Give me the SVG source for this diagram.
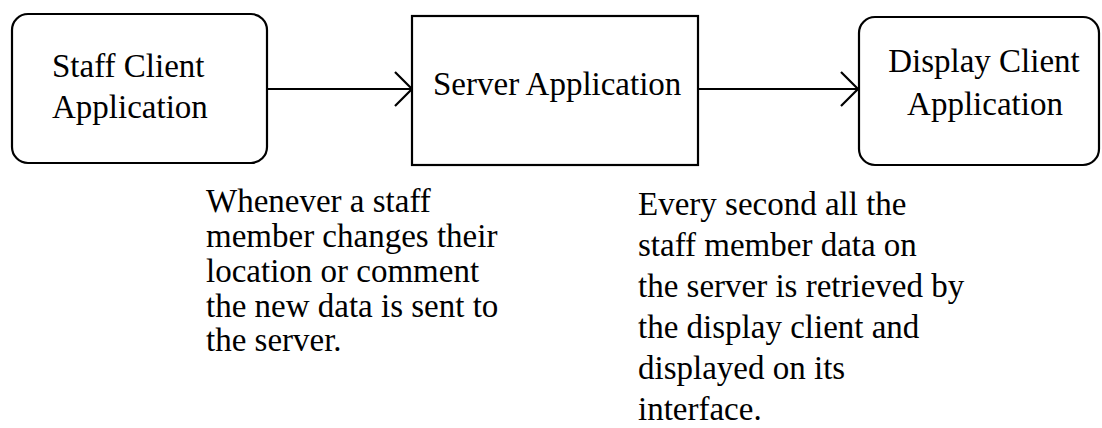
<svg xmlns="http://www.w3.org/2000/svg" width="1102" height="428" viewBox="0 0 1102 428">
<style>
.box{fill:#fff;stroke:#000;stroke-width:2.2}
.t{font-family:"Liberation Serif","Times New Roman",serif;font-size:33px;fill:#000}
.c{stroke:#000;stroke-width:2.2;fill:none}
</style>
<defs>
<marker id="arr" markerUnits="userSpaceOnUse" markerWidth="20" markerHeight="36" refX="17" refY="17" orient="auto" overflow="visible">
<path d="M0,0 L17,17 L0,34" fill="none" stroke="#000" stroke-width="2.2"/>
</marker>
</defs>
<rect width="1102" height="428" fill="#fff"/>
<g id="connectors">
<line class="c" x1="268" y1="89" x2="412" y2="89" marker-end="url(#arr)"/>
<line class="c" x1="698" y1="89" x2="858" y2="89" marker-end="url(#arr)"/>
</g>
<g id="staff-client">
<rect class="box" x="12" y="14" width="255" height="149" rx="16" ry="16"/>
<text class="t" x="52" y="77">Staff Client</text>
<text class="t" x="52" y="118">Application</text>
</g>
<g id="server">
<rect class="box" x="412" y="16" width="286" height="149"/>
<text class="t" x="433" y="95">Server Application</text>
</g>
<g id="display-client">
<rect class="box" x="859" y="17" width="240" height="148" rx="16" ry="16"/>
<text class="t" x="984" y="72" text-anchor="middle">Display Client</text>
<text class="t" x="985" y="115" text-anchor="middle">Application</text>
</g>
<g id="note-left">
<text class="t" x="206" y="212">Whenever a staff</text>
<text class="t" x="206" y="247">member changes their</text>
<text class="t" x="206" y="282">location or comment</text>
<text class="t" x="206" y="317">the new data is sent to</text>
<text class="t" x="206" y="351">the server.</text>
</g>
<g id="note-right">
<text class="t" x="638" y="215">Every second all the</text>
<text class="t" x="638" y="256">staff member data on</text>
<text class="t" x="638" y="297">the server is retrieved by</text>
<text class="t" x="638" y="338">the display client and</text>
<text class="t" x="638" y="379">displayed on its</text>
<text class="t" x="638" y="420">interface.</text>
</g>
</svg>
